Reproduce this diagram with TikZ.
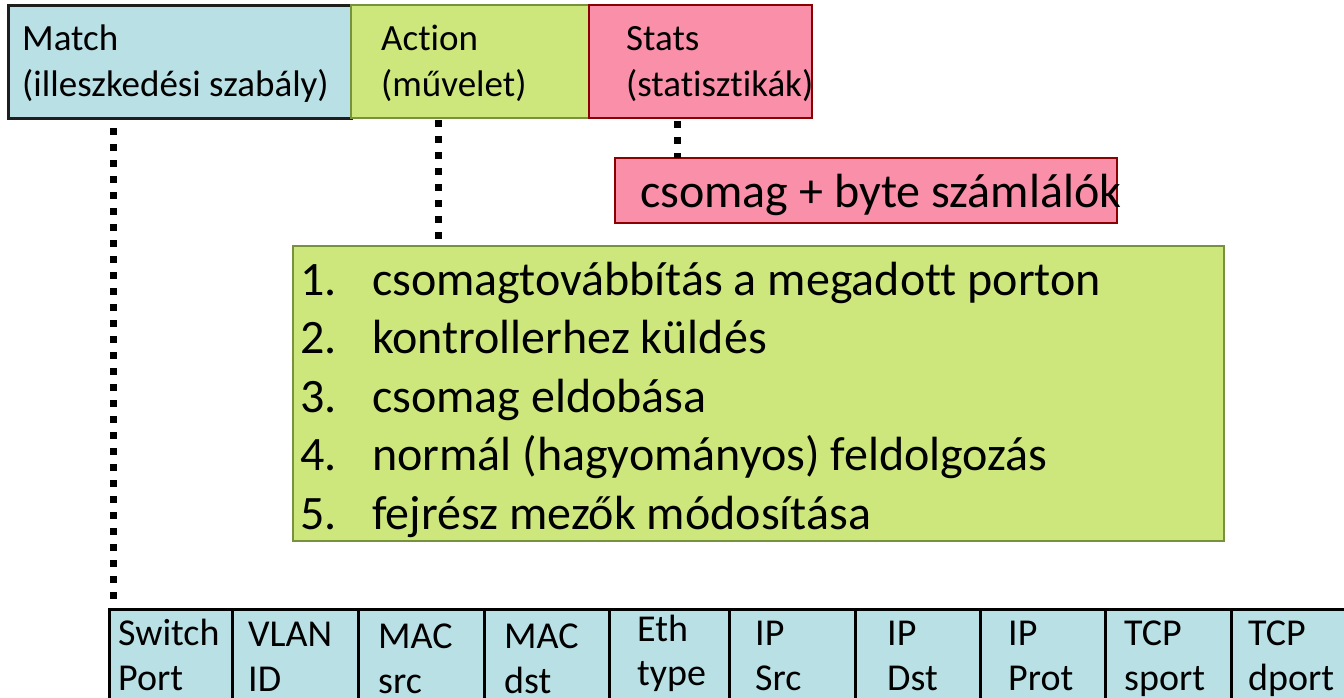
\documentclass[tikz,border=0pt]{standalone}
\usepackage{fontspec}
\setmainfont{Carlito}[Ligatures={NoCommon}]
\definecolor{mblue}{RGB}{185,224,228}
\definecolor{mborder}{RGB}{30,30,30}
\definecolor{agreen}{RGB}{205,231,124}
\definecolor{agreenb}{RGB}{118,146,60}
\definecolor{spink}{RGB}{249,143,168}
\definecolor{spinkb}{RGB}{139,0,0}
\begin{document}
\begin{tikzpicture}[x=1pt,y=-1pt,
  box/.style={anchor=north west, inner sep=0pt, outer sep=0pt},
  matchbox/.style={box, draw=mborder, fill=mblue, line width=3pt},
  actbox/.style={box, draw=agreenb, fill=agreen, line width=2pt},
  statbox/.style={box, draw=spinkb, fill=spink, line width=2pt},
  cellbox/.style={box, draw=black, fill=mblue, line width=3pt, minimum height=130pt},
  lbl/.style={anchor=base west, inner sep=0pt, font=\fontsize{37}{45}\selectfont},
  celllbl/.style={anchor=base west, inner sep=0pt, font=\fontsize{38}{45}\selectfont},
  biglbl/.style={anchor=base west, inner sep=0pt, font=\fontsize{48}{58}\selectfont},
  dotline/.style={line width=7pt, dash pattern=on 7pt off 9pt, line cap=butt}]
\useasboundingbox (0,0) rectangle (1344,697);
\clip (0,0) rectangle (1344,697);

% top header boxes
\node[matchbox, minimum width=343pt, minimum height=113pt] (match) at (8,5) {};
\node[actbox, minimum width=238pt, minimum height=113pt] (action) at (351,5) {};
\node[statbox, minimum width=223pt, minimum height=113pt] (stats) at (589,5) {};
\node[lbl] (matchA) at (22,50) {Match};
\node[lbl] (matchB) at (22,96) {(illeszkedési szabály)};
\node[lbl] (actA) at (381,50) {Action};
\node[lbl] (actB) at (381,96) {(művelet)};
\node[lbl] (statA) at (626,50) {Stats};
\node[lbl] (statB) at (626,96) {(statisztikák)};

% counters box
\node[statbox, minimum width=502pt, minimum height=65pt] (counter) at (615,158) {};
\node[biglbl] (counterT) at (640,207) {csomag + byte számlálók};

% action list box
\node[actbox, minimum width=931pt, minimum height=295pt] (list) at (293,246) {};
\node[biglbl] (n1) at (300,295) {1.};
\node[biglbl] (t1) at (372,295) {csomagtovábbítás a megadott porton};
\node[biglbl] (n2) at (300,353) {2.};
\node[biglbl] (t2) at (372,353) {kontrollerhez küldés};
\node[biglbl] (n3) at (300,412) {3.};
\node[biglbl] (t3) at (372,412) {csomag eldobása};
\node[biglbl] (n4) at (300,470) {4.};
\node[biglbl] (t4) at (372,470) {normál (hagyományos) feldolgozás};
\node[biglbl] (n5) at (300,529) {5.};
\node[biglbl] (t5) at (372,529) {fejrész mezők módosítása};

% match field row
\node[cellbox, minimum width=123pt] (c1) at (109,609) {};
\node[cellbox, minimum width=126pt] (c2) at (232,609) {};
\node[cellbox, minimum width=126pt] (c3) at (358,609) {};
\node[cellbox, minimum width=125pt] (c4) at (484,609) {};
\node[cellbox, minimum width=120pt] (c5) at (609,609) {};
\node[cellbox, minimum width=126pt] (c6) at (729,609) {};
\node[cellbox, minimum width=125pt] (c7) at (855,609) {};
\node[cellbox, minimum width=125pt] (c8) at (980,609) {};
\node[cellbox, minimum width=126pt] (c9) at (1105,609) {};
\node[cellbox, minimum width=160pt] (c10) at (1231,609) {};

\node[celllbl] (c1a) at (118,645) {Switch};
\node[celllbl] (c1b) at (118,690) {Port};
\node[celllbl] (c2a) at (248,646) {VLAN};
\node[celllbl] (c2b) at (248,691) {ID};
\node[celllbl] (c3a) at (378,648) {MAC};
\node[celllbl] (c3b) at (378,693) {src};
\node[celllbl] (c4a) at (504,648) {MAC};
\node[celllbl] (c4b) at (504,693) {dst};
\node[celllbl] (c5a) at (637,641) {Eth};
\node[celllbl] (c5b) at (637,685) {type};
\node[celllbl] (c6a) at (755,645) {IP};
\node[celllbl] (c6b) at (755,690) {Src};
\node[celllbl] (c7a) at (887,645) {IP};
\node[celllbl] (c7b) at (887,690) {Dst};
\node[celllbl] (c8a) at (1008,645) {IP};
\node[celllbl] (c8b) at (1008,690) {Prot};
\node[celllbl] (c9a) at (1124,645) {TCP};
\node[celllbl] (c9b) at (1124,690) {sport};
\node[celllbl] (c10a) at (1248,645) {TCP};
\node[celllbl] (c10b) at (1248,690) {dport};

% dotted connectors
\coordinate (mtop) at (113,128);
\coordinate (atop) at (438,120);
\coordinate (stop) at (677,121);
\draw[dotline] (mtop) -- (mtop |- c1.north);
\draw[dotline] (atop) -- (atop |- list.north);
\draw[dotline] (stop) -- (stop |- counter.north);
\end{tikzpicture}
\end{document}
